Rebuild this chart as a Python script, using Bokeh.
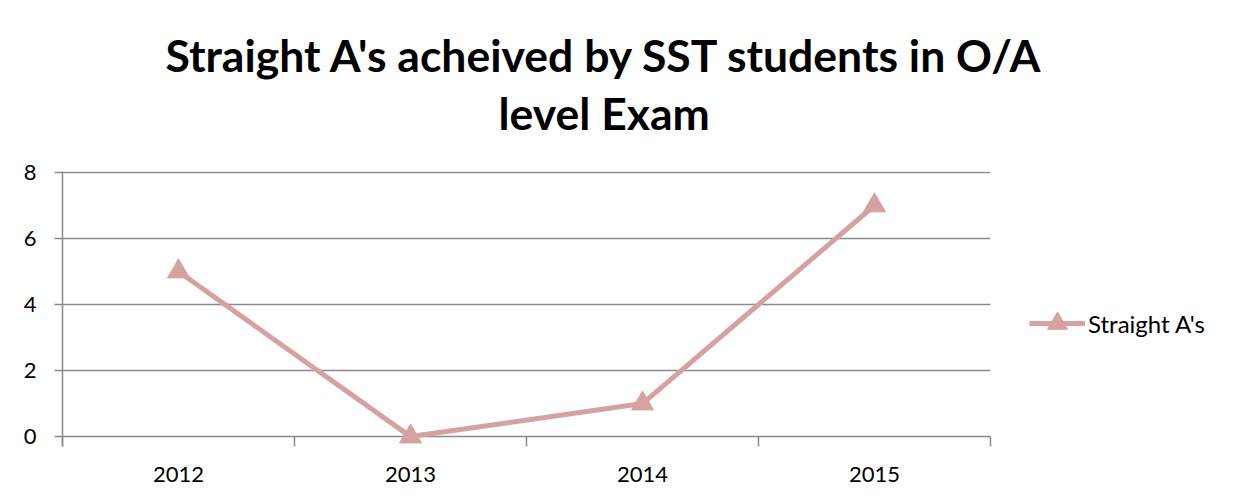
from bokeh.plotting import figure
from bokeh.models import Range1d, FixedTicker, Title, Legend, LegendItem
from bokeh.embed import file_html
from bokeh.resources import INLINE

years = ["2012", "2013", "2014", "2015"]
straight_as = [5, 0, 1, 7]
y_ticks = [0, 2, 4, 6, 8]
series_name = "Straight A's"
title_lines = ["Straight A's acheived by SST students in O/A", "level Exam"]

LINE_COLOR = "#D6A1A1"
GRID_COLOR = "#8A8A8A"
FONT = "Lato"

x_pos = [i + 0.5 for i in range(len(years))]

p = figure(width=1235, height=502, frame_width=928, frame_height=275,
           output_backend="svg", toolbar_location=None,
           x_range=Range1d(0, len(years)), y_range=Range1d(-0.3, 8.03),
           min_border_left=62, min_border_right=245, min_border_top=171, min_border_bottom=56)
p.outline_line_color = None
p.background_fill_color = "white"
p.border_fill_color = "white"

# grid
p.xgrid.grid_line_color = None
p.ygrid.ticker = FixedTicker(ticks=y_ticks)
p.ygrid.grid_line_color = GRID_COLOR
p.ygrid.grid_line_width = 1.5

# y axis
p.yaxis.ticker = FixedTicker(ticks=y_ticks)
p.yaxis.axis_line_color = GRID_COLOR
p.yaxis.axis_line_width = 1.5
p.yaxis.major_tick_line_color = GRID_COLOR
p.yaxis.major_tick_line_width = 1.5
p.yaxis.major_tick_out = 8
p.yaxis.major_tick_in = 0
p.yaxis.minor_tick_line_color = None
p.yaxis.major_label_standoff = 18
p.yaxis.major_label_text_font = FONT
p.yaxis.major_label_text_font_size = "22px"
p.yaxis.major_label_text_color = "black"

# x axis
p.xaxis.ticker = FixedTicker(ticks=x_pos, minor_ticks=list(range(len(years) + 1)))
p.xaxis.major_label_overrides = {x: y for x, y in zip(x_pos, years)}
p.xaxis.axis_line_color = None
p.xaxis.major_tick_line_color = None
p.xaxis.minor_tick_line_color = GRID_COLOR
p.xaxis.minor_tick_line_width = 1.5
p.xaxis.minor_tick_in = 10
p.xaxis.minor_tick_out = 0
p.xaxis.major_label_standoff = 14
p.xaxis.major_label_text_font = FONT
p.xaxis.major_label_text_font_size = "22px"
p.xaxis.major_label_text_color = "black"

line_r = p.line(x_pos, straight_as, line_color=LINE_COLOR, line_width=5)
mark_r = p.scatter(x_pos, straight_as, marker="triangle", size=22,
                   fill_color=LINE_COLOR, line_color=LINE_COLOR)

legend = Legend(items=[LegendItem(label=series_name, renderers=[line_r, mark_r])],
                location=(39, 98), border_line_color=None, background_fill_alpha=0,
                padding=0, margin=0, glyph_width=56, glyph_height=50, label_standoff=3,
                label_text_font=FONT, label_text_font_size="24px", label_text_color="black")
p.add_layout(legend, "right")

t2 = Title(text=title_lines[1], align="left", offset=436, text_font=FONT, text_font_style="bold",
           text_font_size="44.5px", text_color="black", standoff=66)
t1 = Title(text=title_lines[0], align="left", offset=103, text_font=FONT, text_font_style="bold",
           text_font_size="44.5px", text_color="black", standoff=-60)
p.add_layout(t2, "above")
p.add_layout(t1, "above")

open("out.html", "w").write(file_html(p, INLINE))
